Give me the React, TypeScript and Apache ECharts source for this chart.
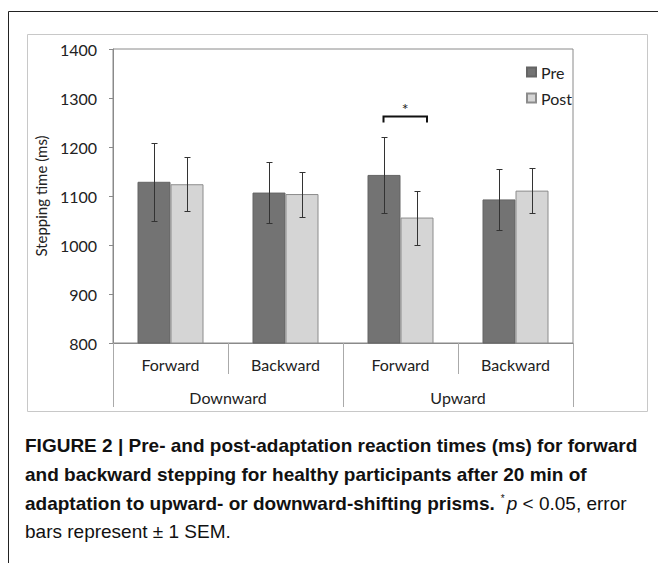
import React, { useEffect, useRef } from "react";
import * as echarts from "echarts";

const CATEGORIES = ["Forward", "Backward", "Forward", "Backward"];
const GROUPS = ["Downward", "Upward"];
const PRE = [1129, 1107, 1143, 1093];
const POST = [1124, 1104, 1056, 1111];
const PRE_SEM = [80, 62, 78, 62];
const POST_SEM = [55, 46, 55, 46];
const SIGNIFICANCE = [[2, 1263]];
const Y_MIN = 800;
const Y_MAX = 1400;
const Y_STEP = 100;

const BAR_W = 33;
const CHART_FONT = "Lato, 'Open Sans', sans-serif";
const CAPTION_FONT = "'Liberation Sans Narrow', 'Arial Narrow', 'Liberation Sans', sans-serif";

function errorSeries(name: string, means: number[], sems: number[], offset: number) {
  return {
    type: "custom",
    name,
    xAxisIndex: 0,
    yAxisIndex: 0,
    z: 5,
    clip: false,
    silent: true,
    encode: { x: 0, y: 1 },
    data: means.map((m, i) => [i, m, sems[i]]),
    renderItem: (params: any, api: any) => {
      const idx = api.value(0);
      const mean = api.value(1);
      const sem = api.value(2);
      const c = api.coord([idx, mean]);
      const x = Math.round(c[0] + offset) + 0.5;
      const top = Math.round(api.coord([idx, mean + sem])[1]) + 0.5;
      const bot = Math.round(api.coord([idx, mean - sem])[1]) + 0.5;
      const st = { stroke: "#333", lineWidth: 1 };
      return {
        type: "group",
        children: [
          { type: "line", shape: { x1: x, y1: top, x2: x, y2: bot }, style: st },
          { type: "line", shape: { x1: x - 3, y1: top, x2: x + 3, y2: top }, style: st },
          { type: "line", shape: { x1: x - 3, y1: bot, x2: x + 3, y2: bot }, style: st },
        ],
      };
    },
  };
}

export default function App() {
  const ref = useRef<HTMLDivElement>(null);
  useEffect(() => {
    document.body.style.margin = "0";
    if (!ref.current) return;
    const chart = echarts.init(ref.current, null, { renderer: "svg" });
    const option: any = {
      animation: false,
      backgroundColor: "#fff",
      textStyle: { fontFamily: CHART_FONT },
      grid: {
        left: 113,
        top: 49,
        right: 85,
        bottom: 220,
        show: true,
        borderColor: "#8a8a8a",
        borderWidth: 1,
      },
      legend: {
        data: ["Pre", "Post"],
        orient: "vertical",
        left: 521,
        top: 59,
        itemWidth: 9,
        itemHeight: 9,
        itemGap: 10,
        textStyle: { fontSize: 16, color: "#222", fontFamily: CHART_FONT },
        icon: "rect",
      },
      xAxis: [
        {
          type: "category",
          data: CATEGORIES,
          position: "bottom",
          axisLine: { show: true, lineStyle: { color: "#8a8a8a" } },
          axisTick: { show: true, interval: 0, length: 31, lineStyle: { color: "#aaa" } },
          axisLabel: { interval: 0, fontSize: 16, color: "#222", margin: 13, fontFamily: CHART_FONT },
        },
        {
          type: "category",
          data: GROUPS,
          position: "bottom",
          axisLine: { show: false },
          axisTick: { show: true, interval: 0, length: 64, lineStyle: { color: "#aaa" } },
          axisLabel: { interval: 0, fontSize: 16, color: "#222", margin: 46, fontFamily: CHART_FONT },
        },
      ],
      yAxis: {
        type: "value",
        min: Y_MIN,
        max: Y_MAX,
        interval: Y_STEP,
        name: "Stepping time (ms)",
        nameLocation: "middle",
        nameGap: 62,
        nameTextStyle: { fontSize: 15, color: "#222", fontFamily: CHART_FONT },
        axisLine: { show: true, lineStyle: { color: "#8a8a8a" } },
        axisTick: { show: true, length: 4, lineStyle: { color: "#8a8a8a" } },
        splitLine: { show: false },
        axisLabel: {
          fontSize: 16,
          color: "#222",
          margin: 16,
          fontFamily: CHART_FONT,
          formatter: (v: number) => String(v),
        },
      },
      series: [
        {
          type: "bar",
          name: "Pre",
          data: PRE,
          barWidth: BAR_W,
          barGap: "0%",
          itemStyle: { color: "#737373", borderColor: "#656565", borderWidth: 1 },
        },
        {
          type: "bar",
          name: "Post",
          data: POST,
          barWidth: BAR_W,
          barGap: "0%",
          itemStyle: { color: "#d5d5d5", borderColor: "#8c8c8c", borderWidth: 1 },
        },
        errorSeries("PreErr", PRE, PRE_SEM, -BAR_W / 2),
        errorSeries("PostErr", POST, POST_SEM, BAR_W / 2),
        {
          type: "custom",
          name: "Sig",
          z: 6,
          clip: false,
          silent: true,
          encode: { x: 0, y: 1 },
          data: SIGNIFICANCE,
          renderItem: (params: any, api: any) => {
            const c = api.coord([api.value(0), api.value(1)]);
            const y = Math.round(c[1]) + 0.5;
            const x1 = Math.round(c[0] - BAR_W / 2) - 0.5;
            const x2 = Math.round(c[0] + BAR_W * 0.8);
            return {
              type: "group",
              children: [
                {
                  type: "polyline",
                  shape: { points: [[x1, y + 6], [x1, y], [x2, y], [x2, y + 6]] },
                  style: { stroke: "#111", lineWidth: 2, fill: null },
                },
                {
                  type: "text",
                  style: {
                    text: "*",
                    x: (x1 + x2) / 2,
                    y: y - 8,
                    fontSize: 16,
                    fontFamily: CHART_FONT,
                    fill: "#222",
                    align: "center",
                    verticalAlign: "middle",
                  },
                },
              ],
            };
          },
        },
      ],
      graphic: [
        {
          type: "rect",
          shape: { x: 8.5, y: 11.5, width: 700, height: 600 },
          style: { fill: null, stroke: "#222", lineWidth: 1 },
          silent: true,
          z: -10,
        },
        {
          type: "rect",
          shape: { x: 27.5, y: 34.5, width: 620, height: 377 },
          style: { fill: null, stroke: "#c8c8c8", lineWidth: 1 },
          silent: true,
          z: -10,
        },
        {
          type: "text",
          x: 25,
          y: 445,
          style: {
            text: "FIGURE 2 | Pre- and post-adaptation reaction times (ms) for forward",
            fontSize: 19,
            fontWeight: "bold",
            fontFamily: CAPTION_FONT,
            fill: "#111",
            verticalAlign: "middle",
          },
        },
        {
          type: "text",
          x: 25,
          y: 474,
          style: {
            text: "and backward stepping for healthy participants after 20 min of",
            fontSize: 19,
            fontWeight: "bold",
            fontFamily: CAPTION_FONT,
            fill: "#111",
            verticalAlign: "middle",
          },
        },
        {
          type: "text",
          x: 25,
          y: 503,
          style: {
            text: "{b|adaptation to upward- or downward-shifting prisms.} {s| *}{i|p}{r| < 0.05, error}",
            verticalAlign: "middle",
            rich: {
              b: { fontSize: 19, fontWeight: "bold", fontFamily: CAPTION_FONT, fill: "#111" },
              s: { fontSize: 10, fontFamily: CAPTION_FONT, fill: "#111", verticalAlign: "top", padding: [0, 2, 8, 0] },
              i: { fontSize: 19, fontStyle: "italic", fontFamily: CAPTION_FONT, fill: "#111" },
              r: { fontSize: 19, fontFamily: CAPTION_FONT, fill: "#111" },
            },
          },
        },
        {
          type: "text",
          x: 25,
          y: 531,
          style: {
            text: "bars represent \u00B1 1 SEM.",
            fontSize: 19,
            fontFamily: CAPTION_FONT,
            fill: "#111",
            verticalAlign: "middle",
          },
        },
      ],
    };
    chart.setOption(option);
    return () => chart.dispose();
  }, []);
  return <div ref={ref} style={{ width: 658, height: 563 }} />;
}
